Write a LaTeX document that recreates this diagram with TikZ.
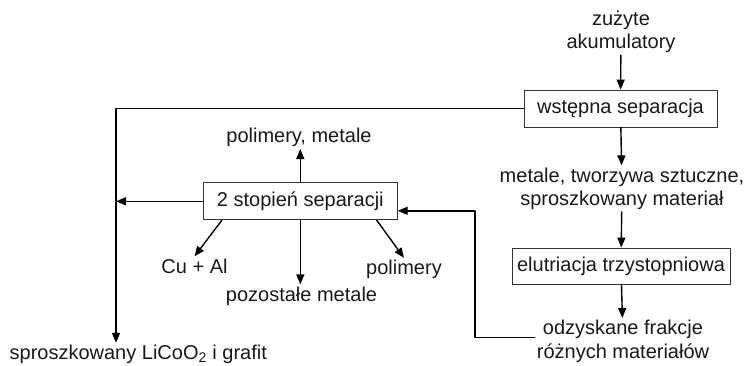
\documentclass[tikz,border=0pt]{standalone}
\usepackage{fontspec}
\setmainfont{Liberation Sans}
\usepackage{tikz}
\usetikzlibrary{arrows.meta}

\begin{document}
\begin{tikzpicture}[line cap=round, line join=round, x=1pt, y=-1pt,
    txt/.style={font=\fontsize{20}{23.5}\selectfont, text=black!90, inner sep=2pt},
    stepbox/.style={txt, draw=black!80, line width=0.8pt, minimum height=37pt, inner sep=3pt},
    arr/.style={line width=1.4pt, -{Triangle[length=10pt,width=8pt]}}]

                \useasboundingbox (0,0) rectangle (749,365);

                \node[txt, align=center, anchor=north] (zuz) at (621,8.6) {zużyte\\akumulatory};
                \node[stepbox, minimum width=193pt] (wst) at (620.5,108.5) {wstępna separacja};
                \node[txt, align=center, anchor=north] (met) at (622,165.4) {metale, tworzywa sztuczne,\\sproszkowany materiał};
                \node[stepbox, minimum width=218pt, minimum height=36pt] (elu) at (621,266) {elutriacja trzystopniowa};
                \node[txt, align=center, anchor=north] (odz) at (623,318) {odzyskane frakcje\\różnych materiałów};

                \node[stepbox, minimum width=194pt] (stop) at (300.3,201.3) {2 stopień separacji};
                \node[txt, anchor=base] (pm) at (299,142.7) {polimery, metale};
                \node[txt, anchor=base] (cual) at (194.5,273) {Cu + Al};
                \node[txt, anchor=base] (poz) at (301.5,301) {pozostałe metale};
                \node[txt, anchor=base] (pol) at (404,274.5) {polimery};
                \node[txt, anchor=base] (spr) at (138.3,359.5) {sproszkowany LiCoO\textsubscript{2} i grafit};

                \coordinate (trunk) at (116,0);
                \coordinate (fb) at (475,0);

                \draw[arr] (zuz) -- (wst);
                \draw[arr] (wst) -- (met);
                \draw[arr] (met) -- (elu);
                \draw[arr] (elu) -- (odz);

                \draw[arr] (wst.west) -- (wst.west -| trunk) -- (spr.north -| trunk);
                \draw[arr] (stop.west) -- (stop.west -| trunk);
                \draw[arr] (stop.north) -- (stop.north |- pm.south);
                \draw[arr] ([xshift=19pt]stop.south west) -- (cual.north);
                \draw[arr] (stop.south) -- (stop.south |- poz.north);
                \draw[arr] ([xshift=-21pt]stop.south east) -- (pol.north);
                \draw[arr] ([yshift=4pt]odz.west) -| ([yshift=-9.5pt]stop.east -| fb) -- ([yshift=-9.5pt]stop.east);

\end{tikzpicture}
\end{document}
